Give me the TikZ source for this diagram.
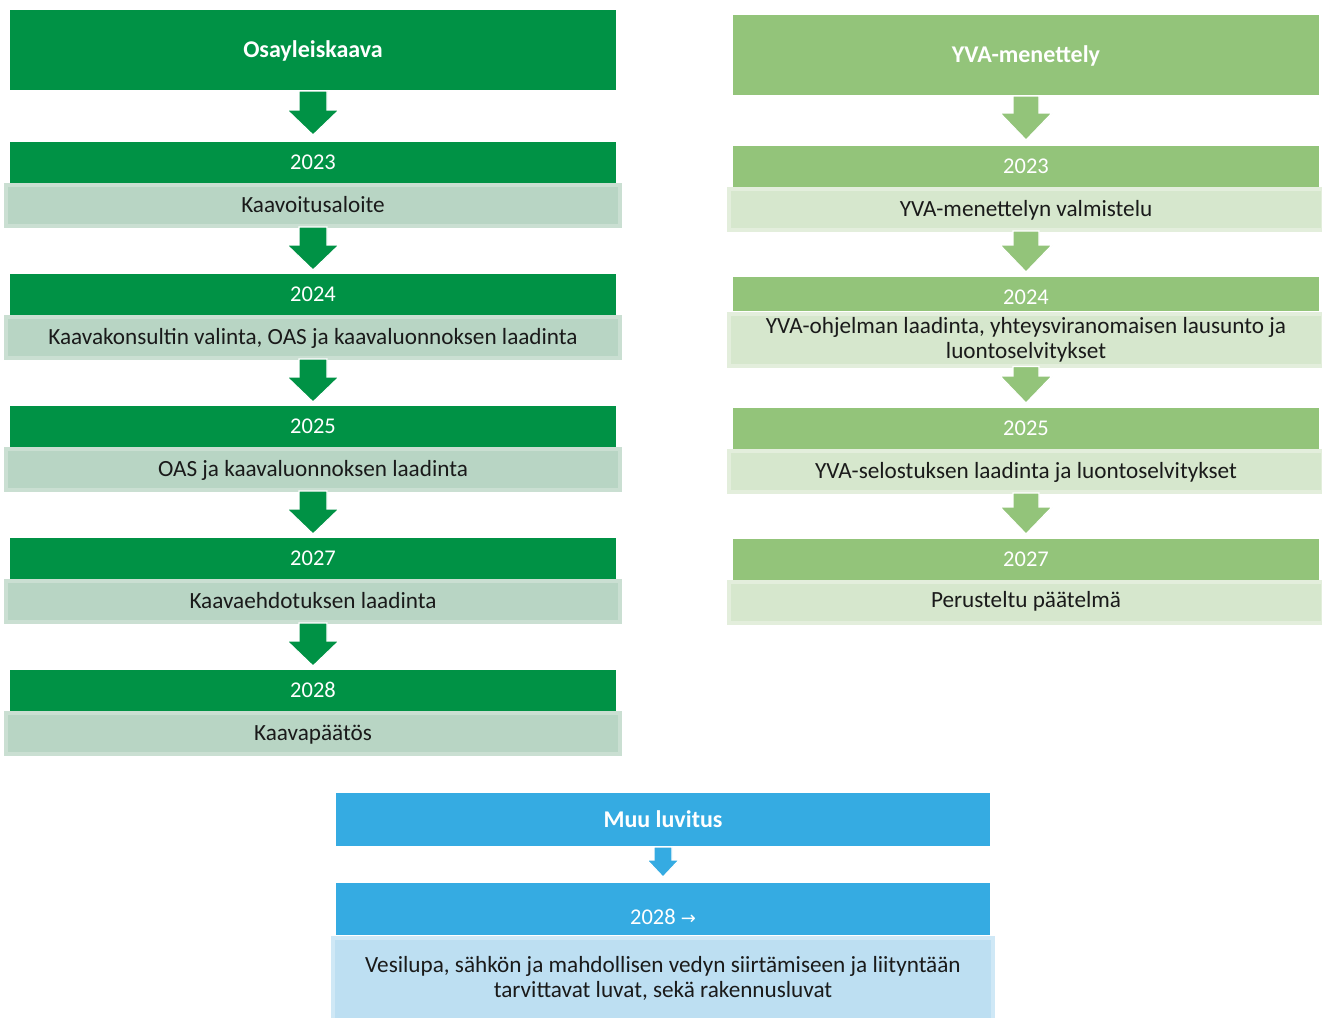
\documentclass[tikz,border=0pt]{standalone}
\usepackage{fontspec}
\setmainfont{Carlito}
\newfontfamily\symf{DejaVu Sans}
\usetikzlibrary{calc}
\definecolor{dg}{HTML}{009245}
\definecolor{dgbox}{HTML}{B8D5C4}
\definecolor{dgedge}{HTML}{CADFD2}
\definecolor{lg}{HTML}{93C47A}
\definecolor{lgbox}{HTML}{D6E7CD}
\definecolor{lgedge}{HTML}{E3EEDC}
\definecolor{bl}{HTML}{35ABE2}
\definecolor{blbox}{HTML}{BDDFF2}
\definecolor{bledge}{HTML}{CFE8F6}
\definecolor{txt}{HTML}{1A1A1A}
% block arrow: #1 from, #2 to, #3 colour, #4 shaft half width, #5 head half width, #6 head length, #7 gap at tip
\newcommand\blockarrow[7]{%
  \coordinate (#1-tip) at ($(#2.north)+(0,-#7)$);
  \fill[#3, draw=white, line width=1.2pt, line join=miter]
    ($(#1.south)+(-#4,1)$) -- ($(#1.south)+(#4,1)$) --
    ($(#1-tip)+(#4,-#6)$) -- ($(#1-tip)+(#5,-#6)$) -- (#1-tip) --
    ($(#1-tip)+(-#5,-#6)$) -- ($(#1-tip)+(-#4,-#6)$) -- cycle;
}
\begin{document}
\begin{tikzpicture}[x=1pt,y=-1pt,
  every node/.style={inner sep=0pt, outer sep=0pt},
  hdrtext/.style={text=white, font=\bfseries\fontsize{24}{28}\selectfont, text height=19pt, text depth=4pt},
  bartext/.style={text=white, font=\fontsize{22.5}{26}\selectfont, text height=17pt, text depth=3pt},
  boxtext/.style={text=txt, font=\fontsize{23.2}{25}\selectfont, align=center},
  oneline/.style={text height=18.6pt, text depth=4pt},
  lhdr/.style={fill=dg, minimum width=606, minimum height=80, hdrtext},
  lbar/.style={fill=dg, minimum width=606, minimum height=41, bartext},
  lbox/.style={fill=dgbox, draw=dgedge, line width=4pt, minimum width=614, minimum height=41, boxtext, oneline},
  rhdr/.style={fill=lg, minimum width=586, minimum height=80, hdrtext},
  rbar/.style={fill=lg, minimum width=586, minimum height=41, bartext},
  rbox/.style={fill=lgbox, draw=lgedge, line width=4pt, minimum width=594, minimum height=41, boxtext},
  bhdr/.style={fill=bl, minimum width=654, minimum height=53, hdrtext},
  bbar/.style={fill=bl, minimum width=654, minimum height=52, bartext},
  bbox/.style={fill=blbox, draw=bledge, line width=4pt, minimum width=660, minimum height=82, boxtext},
]
\useasboundingbox[fill=white] (0,0) rectangle (1322,1017);

% ---------------- left column ----------------
\node[lhdr] (lh) at (313,50) {Osayleiskaava};
\node[lbar] (l1y) at (313,162.5) {2023};
\node[lbox] (l1b) at (313,205.5) {Kaavoitusaloite};
\node[lbar] (l2y) at (313,294.5) {2024};
\node[lbox] (l2b) at (313,337.5) {Kaavakonsultin valinta, OAS ja kaavaluonnoksen laadinta};
\node[lbar] (l3y) at (313,426.5) {2025};
\node[lbox] (l3b) at (313,469.5) {OAS ja kaavaluonnoksen laadinta};
\node[lbar] (l4y) at (313,558.5) {2027};
\node[lbox] (l4b) at (313,601.5) {Kaavaehdotuksen laadinta};
\node[lbar] (l5y) at (313,690.5) {2028};
\node[lbox] (l5b) at (313,733.5) {Kaavapäätös};
\blockarrow{lh}{l1y}{dg}{14}{26}{25}{7}
\blockarrow{l1b}{l2y}{dg}{14}{26}{25}{4}
\blockarrow{l2b}{l3y}{dg}{14}{26}{25}{4}
\blockarrow{l3b}{l4y}{dg}{14}{26}{25}{4}
\blockarrow{l4b}{l5y}{dg}{14}{26}{25}{4}

% ---------------- right column ----------------
\node[rhdr] (rh) at (1026,55) {YVA-menettely};
\node[rbar] (r1y) at (1026,166.5) {2023};
\node[rbox, oneline] (r1b) at (1026,209.5) {YVA-menettelyn valmistelu};
\node[rbar, minimum height=34] (r2y) at (1026,294) {};
\node[bartext] (r2yt) at (1026,297.5) {2024};
\node[rbox, minimum height=52] (r2b) at (1026,339.5) {YVA-ohjelman laadinta, yhteysviranomaisen lausunto ja\\luontoselvitykset};
\node[rbar] (r3y) at (1026,428.5) {2025};
\node[rbox, oneline] (r3b) at (1026,471.5) {YVA-selostuksen laadinta ja luontoselvitykset};
\node[rbar] (r4y) at (1026,559.5) {2027};
\node[rbox] (r4b) at (1026,602) {};
\node[boxtext, oneline] (r4bt) at (1026,600.5) {Perusteltu päätelmä};
\blockarrow{rh}{r1y}{lg}{13}{26}{27}{6}
\blockarrow{r1b}{r2y}{lg}{13}{26}{27}{5}
\blockarrow{r2b}{r3y}{lg}{13}{26}{27}{5}
\blockarrow{r3b}{r4y}{lg}{13}{26}{27}{5}

% ---------------- bottom ----------------
\node[bhdr] (bh) at (663,819.5) {Muu luvitus};
\node[bbar] (b1y) at (663,909) {};
\node[bartext] (b1yt) at (663,917.5) {2028 {\symf\fontsize{18}{20}\selectfont →}};
\node[bbox] (b1b) at (663,978.5) {Vesilupa, sähkön ja mahdollisen vedyn siirtämiseen ja liityntään\\tarvittavat luvat, sekä rakennusluvat};
\blockarrow{bh}{b1y}{bl}{9}{16}{17}{6}
\end{tikzpicture}
\end{document}
